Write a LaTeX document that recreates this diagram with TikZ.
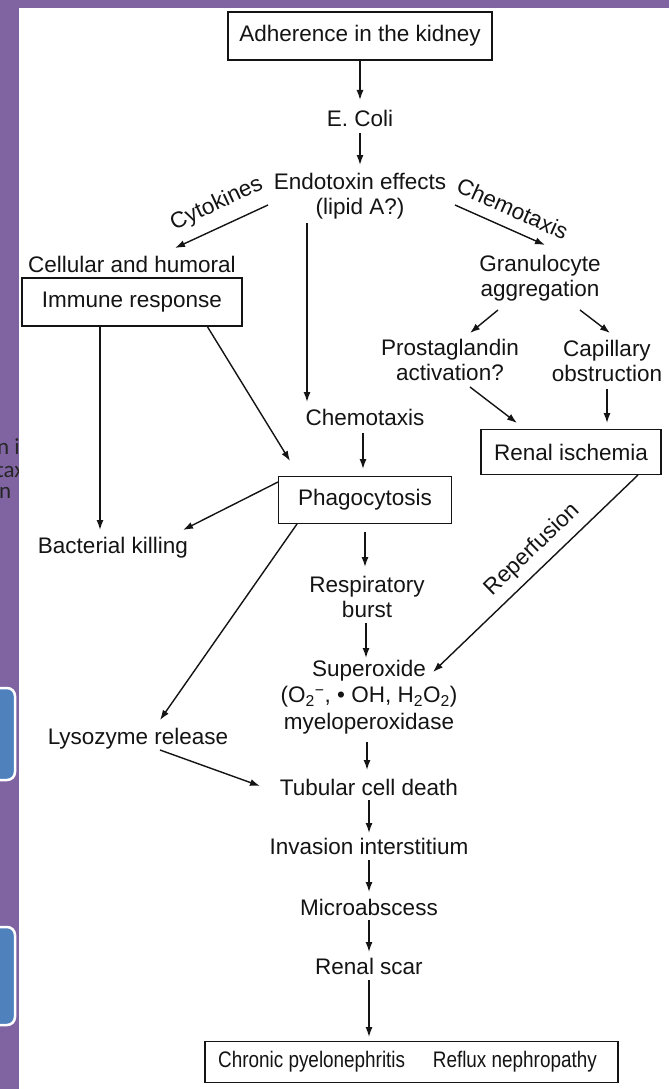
\documentclass[tikz,border=0pt]{standalone}
\usepackage{fontspec}
\usepackage{graphicx}
\setmainfont{Liberation Sans}
\newfontfamily\slidefont{Carlito}
\usetikzlibrary{arrows.meta,calc}
\definecolor{slidepurple}{HTML}{8064A2}
\definecolor{slideblue}{HTML}{4F81BD}
\definecolor{inkgray}{HTML}{141414}
\begin{document}
\begin{tikzpicture}[x=1pt,y=-1pt,
  every node/.style={font=\fontsize{22.5}{25.5}\selectfont, text=inkgray},
  txt/.style={inner sep=0pt, align=center},
  box/.style={draw=inkgray, line width=1.4pt, inner sep=0pt, align=center},
  arr/.style={draw=inkgray, line width=1.4pt, -{Latex[length=10pt,width=7pt]}},
  lbl/.style={inner sep=0pt},
  slidetxt/.style={inner sep=0pt, anchor=west, font=\slidefont\fontsize{23}{26}\selectfont, text=black!85},
  slidebox/.style={fill=slideblue, draw=white, line width=2.5pt, rounded corners=8pt}
]
\useasboundingbox (0,0) rectangle (669,1089);
\fill[slidepurple] (0,0) rectangle (669,1089);
% cut-off slide text behind the diagram
\node[slidetxt] (s1) at (-3,447) {n in};
\node[slidetxt] (s2) at (-4,470) {taxis};
\node[slidetxt] (s3) at (-1,493) {n};
\fill[white] (19,8) rectangle (669,1089);
\draw[slidebox] (-20,688) rectangle (15,780);
\draw[slidebox] (-20,927) rectangle (15,1025);

% nodes
\node[box, minimum width=264, minimum height=48] (adh) at (360,36) {Adherence in the kidney};
\node[txt] (ecoli) at (360,118) {E. Coli};
\node[txt] (endo) at (360,196) {Endotoxin effects\\(lipid A?)};
\node[txt] (cellhum) at (132,264) {Cellular and humoral};
\node[box, minimum width=220, minimum height=48] (imm) at (132,302) {Immune response};
\node[txt] (gran) at (540,278) {Granulocyte\\aggregation};
\node[txt] (prost) at (450,360) {Prostaglandin\\activation?};
\node[txt] (cap) at (607,361) {Capillary\\obstruction};
\node[txt] (chemo) at (365,417) {Chemotaxis};
\node[box, minimum width=180, minimum height=45] (isch) at (571,452) {Renal ischemia};
\node[box, minimum width=173, minimum height=47] (phago) at (365,500) {Phagocytosis};
\node[txt] (bact) at (113,548) {Bacterial killing};
\node[txt] (resp) at (367,597) {Respiratory\\burst};
\node[txt] (super) at (369,697) {Superoxide\\[1pt](O\textsubscript{2}\textsuperscript{−}, \textbullet\ OH, H\textsubscript{2}O\textsubscript{2})\\[1pt]myeloperoxidase};
\node[txt] (lyso) at (138,739) {Lysozyme release};
\node[txt] (tub) at (369,787) {Tubular cell death};
\node[txt] (inv) at (369,846) {Invasion interstitium};
\node[txt] (micro) at (369,907) {Microabscess};
\node[txt] (scar) at (369,966) {Renal scar};
\node[box, minimum width=413, minimum height=41] (final) at (411.5,1062) {\scalebox{0.84}[1]{Chronic pyelonephritis\hspace{33pt}Reflux nephropathy}\hspace{8pt}};

% connectors
\draw[arr] ($(adh)+(0,24)$) -- ($(ecoli)+(0,-18)$);
\draw[arr] ($(ecoli)+(0,15)$) -- ($(endo)+(0,-31)$);
\draw[arr] ($(endo)+(-92,9)$) -- node[lbl, rotate=25, above=11pt, pos=0.45] (cyto) {Cytokines} ($(cellhum)+(43,-16)$);
\draw[arr] ($(endo)+(95,9)$) -- node[lbl, rotate=-24, above=11pt, pos=0.55] (chemolbl) {Chemotaxis} ($(gran)+(5,-33)$);
\draw[arr] ($(endo)+(-53,27)$) -- ($(chemo)+(-58,-15)$);
\draw[arr] ($(gran)+(-42,32)$) -- ($(prost)+(20,-27)$);
\draw[arr] ($(gran)+(40,32)$) -- ($(cap)+(3,-28)$);
\draw[arr] ($(prost)+(20,27)$) -- ($(isch)+(-54,-29)$);
\draw[arr] ($(cap)+(0,28)$) -- ($(cap)+(0,62)$);
\draw[arr] ($(imm)+(-32,24)$) -- ($(bact)+(-13,-18)$);
\draw[arr] ($(imm)+(75,24)$) -- ($(phago)+(-75,-39)$);
\draw[arr] ($(chemo)+(-2,16)$) -- ($(phago)+(-2,-31)$);
\draw[arr] ($(phago)+(-87,-18)$) -- ($(bact)+(70,-18)$);
\draw[arr] ($(phago)+(0,32)$) -- ($(phago)+(0,67)$);
\draw[arr] ($(phago)+(-68,24)$) -- ($(lyso)+(22,-19)$);
\draw[arr] ($(isch)+(67,23)$) -- node[lbl, rotate=44, above=8pt, pos=0.45] (repl) {Reperfusion} ($(super)+(64,-25)$);
\draw[arr] ($(resp)+(-1,26)$) -- ($(resp)+(-1,61)$);
\draw[arr] ($(super)+(-2,45)$) -- ($(tub)+(-2,-17)$);
\draw[arr] ($(lyso)+(22,11)$) -- ($(tub)+(-109,-1)$);
\draw[arr] ($(tub)+(0,13)$) -- ($(inv)+(0,-13)$);
\draw[arr] ($(inv)+(0,14)$) -- ($(micro)+(0,-15)$);
\draw[arr] ($(micro)+(0,13)$) -- ($(scar)+(0,-14)$);
\draw[arr] ($(scar)+(0,14)$) -- ($(scar)+(0,71)$);
\end{tikzpicture}
\end{document}
